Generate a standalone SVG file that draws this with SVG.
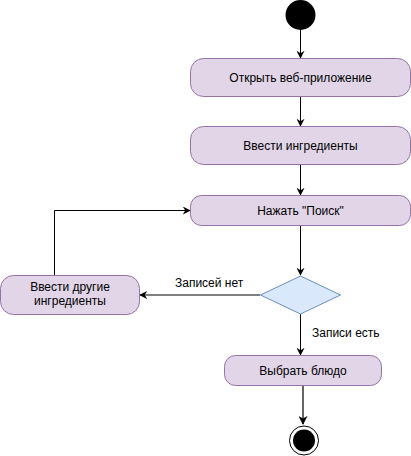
<svg xmlns="http://www.w3.org/2000/svg" width="411" height="456" viewBox="0 0 411 456">
<defs>
<style>
.act{fill:#e1d5e7;stroke:#9673a6;stroke-width:1}
.dec{fill:#dae8fc;stroke:#6c8ebf;stroke-width:1}
.t{font-family:"Liberation Sans",Arial,sans-serif;font-size:12px;fill:#000;text-anchor:middle}
.lbl{font-family:"Liberation Sans",Arial,sans-serif;font-size:12px;fill:#000}
.e{fill:none;stroke:#000;stroke-width:1}
.eg{fill:none;stroke:#666;stroke-width:2}
</style>
<marker id="a" viewBox="0 0 10 10" refX="9" refY="5" markerWidth="8" markerHeight="8" markerUnits="userSpaceOnUse" orient="auto"><path d="M0,0 L10,5 L0,10 L3,5 Z" fill="#000"/></marker>
<marker id="ag" viewBox="0 0 10 10" refX="9" refY="5" markerWidth="9" markerHeight="9" markerUnits="userSpaceOnUse" orient="auto"><path d="M0,0 L10,5 L0,10 L3,5 Z" fill="#000"/></marker>
</defs>
<g id="connectors">
<path class="e" d="M300.5,30 V58" marker-end="url(#a)"/>
<path class="e" d="M300.5,96 V126" marker-end="url(#a)"/>
<path class="e" d="M300.5,165 V195" marker-end="url(#a)"/>
<path class="e" d="M300.5,225 V275" marker-end="url(#a)"/>
<path class="e" d="M260,295 H140" marker-end="url(#a)"/>
<path class="e" d="M54.5,275 V210.5 H190" marker-end="url(#a)"/>
<path class="e" d="M300.5,314 V355" marker-end="url(#a)"/>
<path class="eg" d="M303,385 V424" marker-end="url(#ag)"/>
<text class="lbl" x="175" y="287">Записей нет</text>
<text class="lbl" x="312" y="337">Записи есть</text>
</g>
<g id="start"><circle cx="300.5" cy="15" r="15" fill="#000"/></g>
<g id="open"><rect class="act" x="190.5" y="58.5" width="220" height="38" rx="13"/><text class="t" x="300.5" y="81.5">Открыть веб-приложение</text></g>
<g id="enter"><rect class="act" x="190.5" y="126.5" width="220" height="38" rx="13"/><text class="t" x="300.5" y="149.5">Ввести ингредиенты</text></g>
<g id="search"><rect class="act" x="190.5" y="195.5" width="220" height="30" rx="11"/><text class="t" x="300.5" y="214.5">Нажать "Поиск"</text></g>
<g id="decision"><path class="dec" d="M300.5,276 L340.5,295 L300.5,314 L260.5,295 Z"/></g>
<g id="other"><rect class="act" x="0.5" y="275.5" width="139" height="39" rx="13"/><text class="t" x="70" y="291">Ввести другие</text><text class="t" x="70" y="305">ингредиенты</text></g>
<g id="choose"><rect class="act" x="224.5" y="355.5" width="157" height="30" rx="11"/><text class="t" x="303" y="374.5">Выбрать блюдо</text></g>
<g id="end"><circle cx="304" cy="440.5" r="14.5" fill="#fff" stroke="#000" stroke-width="1"/><circle cx="304" cy="440.5" r="11" fill="#000"/></g>
</svg>
